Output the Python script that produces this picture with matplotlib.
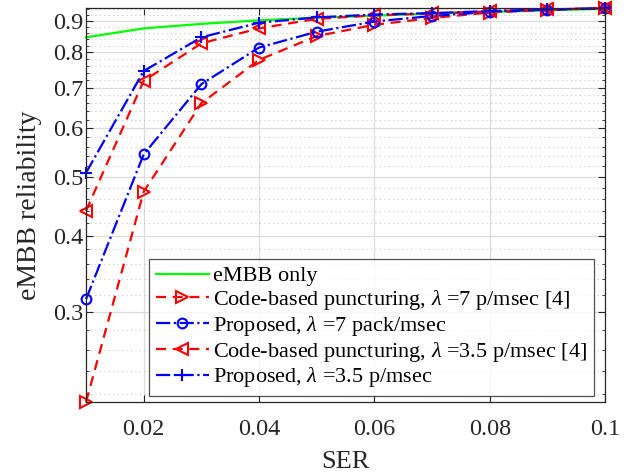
import matplotlib
matplotlib.use('Agg')
import matplotlib.pyplot as plt
from matplotlib.ticker import FixedLocator, NullLocator

# data
ser = [0.01, 0.02, 0.03, 0.04, 0.05, 0.06, 0.07, 0.08, 0.09, 0.10]
embb_only = [0.846, 0.875, 0.890, 0.902, 0.911, 0.918, 0.925, 0.931, 0.937, 0.942]
code_7 = [0.2137, 0.4725, 0.660, 0.777, 0.850, 0.887, 0.910, 0.929, 0.939, 0.944]
prop_7 = [0.315, 0.544, 0.709, 0.814, 0.864, 0.898, 0.917, 0.931, 0.939, 0.944]
code_35 = [0.4396, 0.718, 0.827, 0.875, 0.907, 0.919, 0.926, 0.933, 0.940, 0.944]
prop_35 = [0.5075, 0.745, 0.846, 0.894, 0.912, 0.922, 0.927, 0.934, 0.940, 0.944]

labels = ['eMBB only',
          r'Code-based puncturing, $\lambda$ =7 p/msec [4]',
          r'Proposed, $\lambda$ =7 pack/msec',
          r'Code-based puncturing, $\lambda$ =3.5 p/msec [4]',
          r'Proposed, $\lambda$ =3.5 p/msec']

xticks = [0.02, 0.04, 0.06, 0.08, 0.1]
xticklabels = ['0.02', '0.04', '0.06', '0.08', '0.1']
yticks = [0.3, 0.4, 0.5, 0.6, 0.7, 0.8, 0.9]
yticklabels = ['0.3', '0.4', '0.5', '0.6', '0.7', '0.8', '0.9']
yminor = [0.22, 0.24, 0.26, 0.28, 0.32, 0.34, 0.36, 0.38, 0.42, 0.44, 0.46, 0.48,
          0.52, 0.54, 0.56, 0.58, 0.62, 0.64, 0.66, 0.68, 0.72, 0.74, 0.76, 0.78,
          0.82, 0.84, 0.86, 0.88, 0.92, 0.94]

plt.rcParams['font.family'] = 'Liberation Serif'
plt.rcParams['mathtext.fontset'] = 'custom'
plt.rcParams['mathtext.it'] = 'Liberation Serif:italic'
plt.rcParams['mathtext.rm'] = 'Liberation Serif'

fig = plt.figure(figsize=(6.33, 4.76), dpi=100)
ax = fig.add_axes([0.1359, 0.1555, 0.8199, 0.8277])

lw = 1.6
ax.plot(ser, embb_only, color='#00ff00', lw=lw, label=labels[0], clip_on=False)
ax.plot(ser, code_7, color='red', ls='--', lw=lw, marker='>', ms=8,
        mfc='none', mew=1.5, label=labels[1], dashes=(4.5, 3), clip_on=False)
ax.plot(ser, prop_7, color='blue', ls='-.', lw=lw, marker='o', ms=7,
        mfc='none', mew=1.5, label=labels[2], clip_on=False)
ax.plot(ser, code_35, color='red', ls='--', lw=lw, marker='<', ms=8,
        mfc='none', mew=1.5, label=labels[3], dashes=(4.5, 3), clip_on=False)
ax.plot(ser, prop_35, color='blue', ls='-.', lw=lw, marker='+', ms=9,
        mew=1.5, label=labels[4], clip_on=False)

ax.set_yscale('log')
ax.set_xlim(0.01, 0.1)
ax.set_ylim(0.2137, 0.945)

ax.set_xticks(xticks)
ax.set_xticklabels(xticklabels)
ax.xaxis.set_minor_locator(NullLocator())
ax.yaxis.set_major_locator(FixedLocator(yticks))
ax.set_yticklabels(yticklabels)
ax.yaxis.set_minor_locator(FixedLocator(yminor))
ax.yaxis.set_minor_formatter(plt.NullFormatter())

ax.grid(True, which='major', color='#dcdcdc', lw=0.9, ls='-')
ax.grid(True, which='minor', axis='y', color='#c8c8c8', lw=0.8, ls=(0, (1, 3)))
ax.set_axisbelow(True)

ax.tick_params(which='both', direction='in', top=True, right=True,
               colors='#262626', labelsize=17.5)
ax.tick_params(axis='x', pad=12)
ax.tick_params(axis='y', pad=2)
ax.tick_params(which='major', length=5, width=0.8)
ax.tick_params(which='minor', length=2.5, width=0.6)
for s in ax.spines.values():
    s.set_color('#262626')
    s.set_linewidth(0.9)

ax.set_xlabel('SER', fontsize=19, color='#262626', labelpad=8)
ax.set_ylabel('eMBB reliability', fontsize=20, color='#262626', labelpad=8)

leg = ax.legend(loc='lower right', bbox_to_anchor=(0.979, 0.015), fontsize=16,
                frameon=True, fancybox=False, edgecolor='#262626',
                handlelength=2.4, labelspacing=0.08, borderpad=0.3,
                handletextpad=0.2, borderaxespad=0)
leg.get_frame().set_linewidth(0.9)

fig.savefig('out.png', dpi=100)
